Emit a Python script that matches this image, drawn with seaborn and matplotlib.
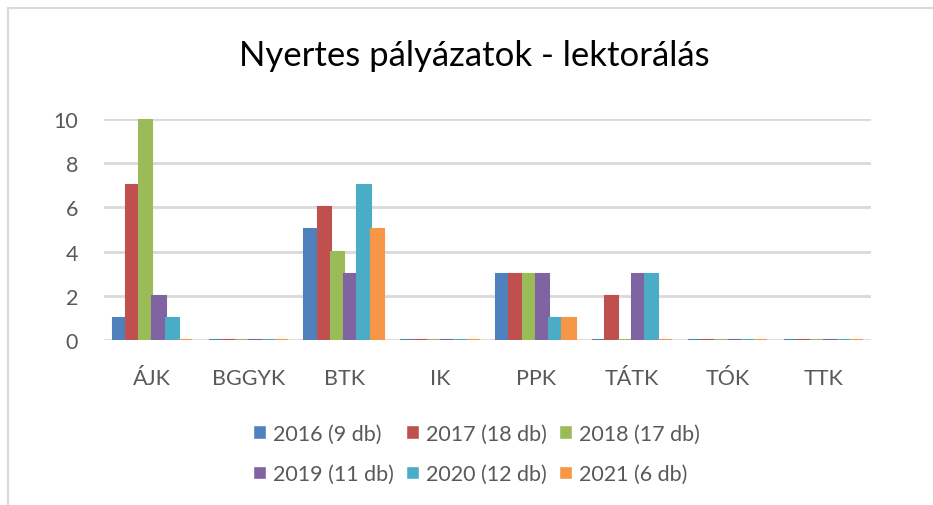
import pandas as pd
import matplotlib.pyplot as plt
import seaborn as sns
from matplotlib.patches import Rectangle

categories = ["ÁJK", "BGGYK", "BTK", "IK", "PPK", "TÁTK", "TÓK", "TTK"]
series = ["2016 (9 db)", "2017 (18 db)", "2018 (17 db)",
          "2019 (11 db)", "2020 (12 db)", "2021 (6 db)"]
v2016 = [1, 0, 5, 0, 3, 0, 0, 0]
v2017 = [7, 0, 6, 0, 3, 2, 0, 0]
v2018 = [10, 0, 4, 0, 3, 0, 0, 0]
v2019 = [2, 0, 3, 0, 3, 3, 0, 0]
v2020 = [1, 0, 7, 0, 1, 3, 0, 0]
v2021 = [0, 0, 5, 0, 1, 0, 0, 0]
colors = ["#4F81BD", "#C0504D", "#9BBB59", "#8064A2", "#4BACC6", "#F79646"]

values = [v2016, v2017, v2018, v2019, v2020, v2021]
df = pd.DataFrame({
    "kar": categories * len(series),
    "ev": [s for s in series for _ in categories],
    "db": [v for vals in values for v in vals],
})

sns.set_style("white")
plt.rcParams["font.family"] = ["Lato", "DejaVu Sans"]

fig = plt.figure(figsize=(9.33, 5.06), dpi=100)
ax = fig.add_axes([0.112, 0.326, 0.822, 0.437])

sns.barplot(data=df, x="kar", y="db", hue="ev", palette=colors,
            width=0.83, saturation=1, ax=ax, zorder=3)

# zero bars show as a thin flat line, like in the original
for cont, col in zip(ax.containers, colors):
    for bar in cont:
        bar.set_edgecolor(col)
        bar.set_linewidth(1.5)

ax.set_ylim(0, 10)
ax.set_yticks([0, 2, 4, 6, 8, 10])
ax.yaxis.grid(True, color="#D9D9D9", linewidth=2)
ax.set_axisbelow(True)
sns.despine(ax=ax, left=True, bottom=True)
ax.set_xlabel("")
ax.set_ylabel("")
ax.tick_params(axis="y", labelsize=15.5, labelcolor="#595959", length=0, pad=19)
ax.tick_params(axis="x", labelsize=15.5, labelcolor="#595959", length=0, pad=20)

# legend filled row by row (3 per row)
handles, labels = ax.get_legend_handles_labels()
order = [0, 3, 1, 4, 2, 5]
ax.legend([handles[i] for i in order], [labels[i] for i in order],
          loc="upper center", bbox_to_anchor=(0.485, -0.29), ncol=3,
          frameon=False, fontsize=15.5, labelcolor="#595959",
          handlelength=0.6, handleheight=0.6, handletextpad=0.3,
          columnspacing=0.6, labelspacing=0.95)

fig.text(0.508, 0.89, "Nyertes pályázatok - lektorálás", ha="center",
         va="center", fontsize=25, color="#000000")

fig.patches.append(Rectangle((8 / 933, -0.05), 1.1, 1 - 9 / 506 + 0.05,
                             transform=fig.transFigure, fill=False,
                             edgecolor="#D9D9D9", linewidth=1.5))

fig.savefig("out.png", dpi=100)
